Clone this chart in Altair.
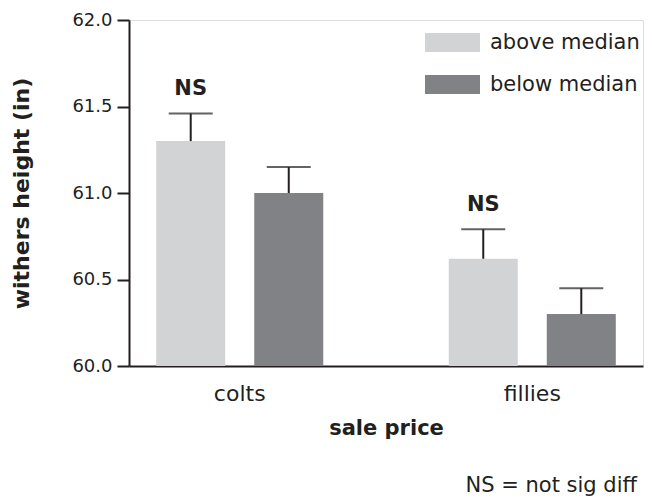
import altair as alt
import pandas as pd

sex = ["colts", "colts", "fillies", "fillies"]
price_group = ["above median", "below median", "above median", "below median"]
mean_height = [61.3, 61.0, 60.62, 60.3]
upper_err = [61.46, 61.15, 60.79, 60.45]
sig_label = ["NS", "", "NS", ""]
y_ticks = [60.0, 60.5, 61.0, 61.5, 62.0]
group_colors = ["#D1D3D4", "#808285"]

df = pd.DataFrame({
    "sex": sex,
    "group": price_group,
    "mean": mean_height,
    "upper": upper_err,
    "sig": sig_label,
})

FONT = "DejaVu Sans"
INK = "#231F20"

x_enc = alt.X("sex:N", sort=["colts", "fillies"],
              scale=alt.Scale(paddingInner=0.429, paddingOuter=0.093),
              axis=alt.Axis(title="sale price", labelAngle=0, ticks=False,
                            labelPadding=17, titlePadding=13,
                            domainColor=INK, domainWidth=2,
                            labelFontSize=22, titleFontSize=21,
                            labelColor=INK, titleColor=INK,
                            labelFont=FONT, titleFont=FONT,
                            titleFontWeight="bold", grid=False))
xo_enc = alt.XOffset("group:N", sort=["above median", "below median"],
                     scale=alt.Scale(paddingInner=0.296, paddingOuter=0))
y_scale = alt.Scale(domain=[60, 62], zero=False, nice=False)
y_enc = alt.Y("mean:Q", scale=y_scale,
              axis=alt.Axis(title="withers height (in)", values=y_ticks,
                            format=".1f", tickSize=12, tickWidth=2,
                            tickColor=INK, domainColor=INK, domainWidth=2,
                            labelPadding=5, titlePadding=38,
                            labelFontSize=18, titleFontSize=22,
                            labelColor=INK, titleColor=INK,
                            labelFont=FONT, titleFont=FONT,
                            titleFontWeight="bold", grid=False))

bars = alt.Chart(df).mark_bar().encode(
    x=x_enc, xOffset=xo_enc, y=y_enc, y2=alt.datum(60),
    color=alt.Color("group:N", sort=["above median", "below median"],
                    scale=alt.Scale(domain=["above median", "below median"],
                                    range=group_colors),
                    legend=alt.Legend(title=None, orient="none",
                                      legendX=296, legendY=-5,
                                      symbolType="M-1,-0.345H1V0.345H-1Z",
                                      symbolSize=3025, symbolStrokeWidth=0,
                                      symbolOpacity=1,
                                      labelFontSize=21, labelFont=FONT,
                                      labelColor=INK, labelOffset=10,
                                      rowPadding=4)),
)

err_line = alt.Chart(df).mark_rule(color=INK, strokeWidth=2).encode(
    x=alt.X("sex:N", sort=["colts", "fillies"]), xOffset=xo_enc,
    y=alt.Y("mean:Q", scale=y_scale), y2="upper:Q",
)

err_cap = alt.Chart(df).mark_tick(color=INK, thickness=2, size=44).encode(
    x=alt.X("sex:N", sort=["colts", "fillies"]), xOffset=xo_enc,
    y=alt.Y("upper:Q", scale=y_scale),
)

ns_text = alt.Chart(df).mark_text(font=FONT, fontSize=21, fontWeight="bold",
                                  color=INK, baseline="middle", dy=-24).encode(
    x=alt.X("sex:N", sort=["colts", "fillies"]), xOffset=xo_enc,
    y=alt.Y("upper:Q", scale=y_scale),
    text="sig:N",
)

chart = alt.layer(bars, err_line, err_cap, ns_text).properties(
    width=514, height=346,
    title=alt.TitleParams("NS = not sig diff", orient="bottom", anchor="end",
                          fontSize=21, fontWeight="normal", font=FONT,
                          color=INK, offset=37, dx=-6),
    autosize=alt.AutoSizeParams(type="none"),
    padding={"left": 121, "top": 12, "right": 1, "bottom": 132},
).configure_view(stroke=None).configure(background="white")

chart.save("out.html", embed_options={"renderer": "svg", "actions": False})
